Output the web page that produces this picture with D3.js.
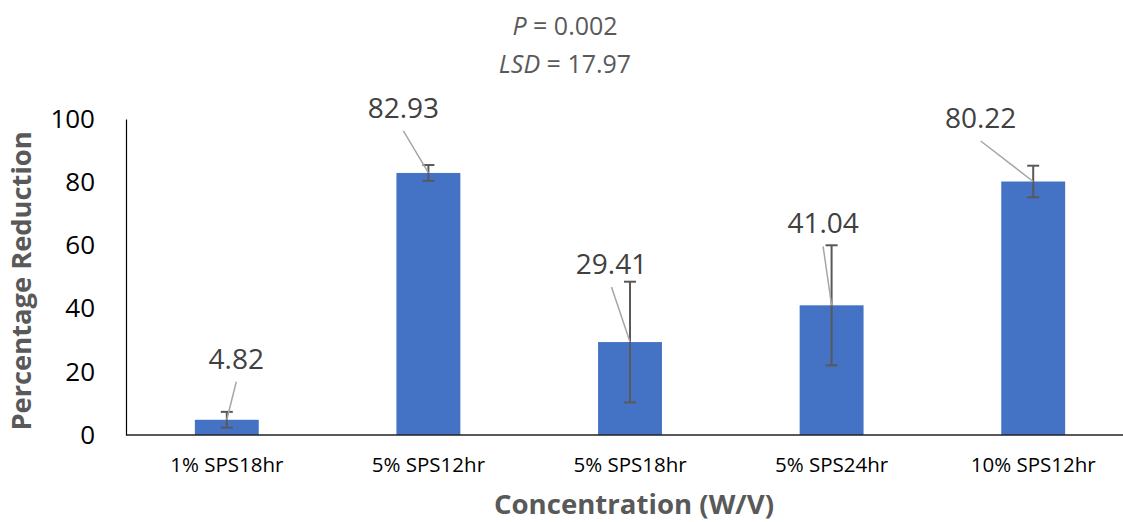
<!DOCTYPE html>
<html>
<head>
<meta charset="utf-8">
<script src="https://cdn.jsdelivr.net/npm/d3@7/dist/d3.min.js"></script>
<style>
  html, body { margin: 0; padding: 0; background: #fff; }
  svg { display: block; font-family: "Open Sans", sans-serif; }
</style>
</head>
<body>
<svg id="chart" width="1123" height="522"></svg>
<script>
// ---- data ----
const categories = ["1% SPS18hr", "5% SPS12hr", "5% SPS18hr", "5% SPS24hr", "10% SPS12hr"];
const values = [4.82, 82.93, 29.41, 41.04, 80.22];
const errors = [2.5, 2.5, 19.1, 19.0, 5.0];
const yTicks = [0, 20, 40, 60, 80, 100];
const titleLines = [["P", " = 0.002"], ["LSD", " = 17.97"]];
const xTitle = "Concentration (W/V)";
const yTitle = "Percentage Reduction";
// label offsets relative to bar top-centre (layout)
const labelOffsets = [[9.5, -51], [-25, -55], [-18.5, -68], [-8.5, -72], [-52.5, -53.5]];

const svg = d3.select("#chart");
const x = d3.scaleBand().domain(categories).range([126, 1134]).paddingInner(0.683).paddingOuter(0.3415);
const y = d3.scaleLinear().domain([0, 100]).range([435, 119]);

// title
const title = svg.append("g").attr("fill", "#595959").attr("font-size", 25).attr("text-anchor", "middle");
titleLines.forEach((ln, i) => {
  const t = title.append("text").attr("x", 565).attr("y", 35 + i * 38);
  t.append("tspan").attr("font-style", "italic").text(ln[0]);
  t.append("tspan").text(ln[1]);
});

// y axis
const yAxis = svg.append("g").attr("transform", "translate(126,0)")
  .call(d3.axisLeft(y).tickValues(yTicks).tickSize(0).tickPadding(31));
yAxis.select(".domain").attr("stroke", "#000").attr("stroke-width", 1.2);
yAxis.selectAll("text").attr("font-size", 26).attr("fill", "#000").attr("font-family", "Open Sans");

// bars
svg.append("g").selectAll("rect").data(values).join("rect")
  .attr("x", (d, i) => x(categories[i]))
  .attr("y", d => y(d))
  .attr("width", x.bandwidth())
  .attr("height", d => y(0) - y(d))
  .attr("fill", "#4472C4");

// x axis
const xAxis = svg.append("g").attr("transform", "translate(0,435)")
  .call(d3.axisBottom(x).tickSize(0).tickPadding(22));
xAxis.select(".domain").remove();
svg.append("line").attr("x1", 126).attr("x2", 1123).attr("y1", 435).attr("y2", 435)
  .attr("stroke", "#222").attr("stroke-width", 1.6);
xAxis.selectAll("text").attr("font-size", 20.5).attr("fill", "#000").attr("font-family", "Open Sans");

// error bars
const eb = svg.append("g").attr("stroke", "#595959").attr("stroke-width", 2);
values.forEach((v, i) => {
  const cx = x(categories[i]) + x.bandwidth() / 2;
  const y1 = y(v + errors[i]), y2 = y(v - errors[i]);
  eb.append("line").attr("x1", cx).attr("x2", cx).attr("y1", y1).attr("y2", y2);
  eb.append("line").attr("x1", cx - 6).attr("x2", cx + 6).attr("y1", y1).attr("y2", y1);
  eb.append("line").attr("x1", cx - 6).attr("x2", cx + 6).attr("y1", y2).attr("y2", y2);
});

// data labels with leader lines
const lbl = svg.append("g");
values.forEach((v, i) => {
  const cx = x(categories[i]) + x.bandwidth() / 2;
  const top = y(v);
  const lx = cx + labelOffsets[i][0];
  const ly = top + labelOffsets[i][1];
  lbl.append("line").attr("x1", lx).attr("y1", ly + 13).attr("x2", cx).attr("y2", top)
    .attr("stroke", "#A6A6A6").attr("stroke-width", 1.5);
  lbl.append("text").attr("x", lx).attr("y", ly).attr("text-anchor", "middle")
    .attr("font-size", 28).attr("fill", "#404040").text(d3.format(".2f")(v));
});

// axis titles
svg.append("text").attr("x", 634).attr("y", 514).attr("text-anchor", "middle")
  .attr("font-size", 27.6).attr("font-weight", "bold").attr("fill", "#595959").text(xTitle);
svg.append("text").attr("transform", "translate(31,281) rotate(-90)").attr("text-anchor", "middle")
  .attr("font-size", 27.3).attr("font-weight", "bold").attr("fill", "#595959").text(yTitle);
</script>
</body>
</html>
